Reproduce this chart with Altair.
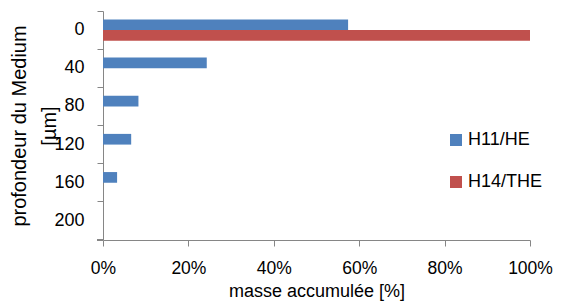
import altair as alt
import pandas as pd

depth = ["0", "40", "80", "120", "160", "200"]
series = ["H11/HE", "H14/THE"]
h11 = [0.574, 0.243, 0.083, 0.066, 0.033, 0.0]
h14 = [1.0, 0.0, 0.0, 0.0, 0.0, 0.0]
colors = ["#4F81BD", "#C0504D"]
x_ticks = [0, 0.2, 0.4, 0.6, 0.8, 1.0]

rows = []
for d, a, b in zip(depth, h11, h14):
    rows.append({"depth": d, "serie": series[0], "val": a})
    rows.append({"depth": d, "serie": series[1], "val": b})
df = pd.DataFrame(rows)

FONT = "Liberation Sans"
AX = "#868686"
W, H = 427, 229

bars = alt.Chart(df).mark_bar().encode(
    x=alt.X("val:Q", scale=alt.Scale(domain=[0, 1], nice=False),
            axis=alt.Axis(values=x_ticks, format=".0%", title="masse accumulée [%]",
                          grid=False, labelBaseline="alphabetic", labelPadding=27,
                          labelFlush=False, labelFontSize=17.5,
                          titleBaseline="alphabetic", titleY=56)),
    y=alt.Y("depth:N", sort=depth,
            scale=alt.Scale(paddingInner=0, paddingOuter=0),
            axis=alt.Axis(title=["profondeur du Medium", "[µm]"], bandPosition=0,
                          labelPadding=13, titleAngle=270, titleX=-78, titleY=114.5,
                          titleBaseline="alphabetic", titleAlign="center",
                          titleLineHeight=30, titleFontSize=20)),
    yOffset=alt.YOffset("serie:N", sort=series,
                        scale=alt.Scale(paddingInner=0, paddingOuter=0.785)),
    color=alt.Color("serie:N", sort=series,
                    scale=alt.Scale(domain=series, range=colors),
                    legend=alt.Legend(title=None, orient="none", legendX=344, legendY=120,
                                      symbolType="square", symbolSize=144,
                                      symbolStrokeWidth=0, labelFontSize=18,
                                      labelFont=FONT, rowPadding=24, labelOffset=3,
                                      padding=0)),
)

bottom_tick = alt.Chart(df).mark_rule(color=AX, strokeWidth=1).encode(
    x=alt.value(-6), x2=alt.value(0), y=alt.value(H)
)

chart = alt.layer(bars, bottom_tick).properties(
    width=W, height=H,
    autosize=alt.AutoSizeParams(type="none"),
    padding={"left": 95, "top": 3, "right": 23, "bottom": 62},
).configure_view(stroke=None).configure_axis(
    domainColor=AX, tickColor=AX, tickSize=6, domainWidth=1, tickWidth=1,
    labelFont=FONT, titleFont=FONT, labelFontSize=18, titleFontSize=18,
    labelColor="#000000", titleColor="#000000", titleFontWeight="normal",
)

chart.save("out.html", embed_options={"renderer": "svg", "actions": False})
